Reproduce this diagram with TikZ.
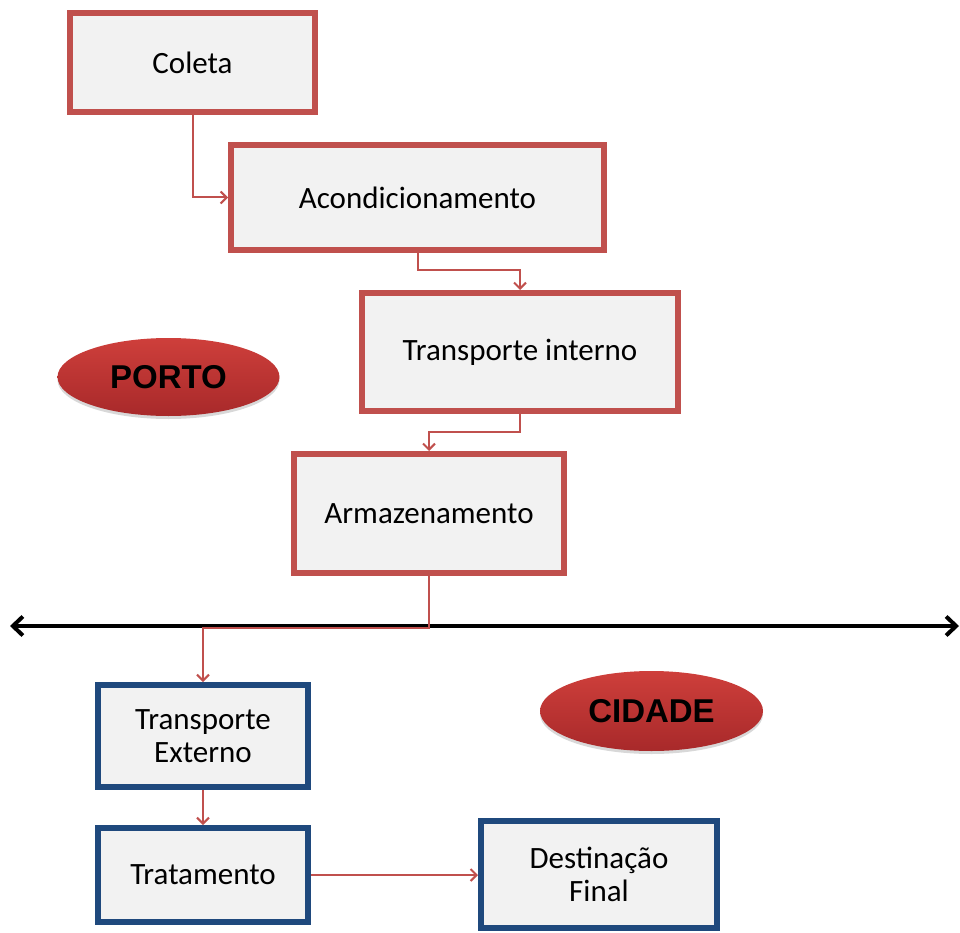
\documentclass[tikz,border=0pt]{standalone}
\usepackage{fontspec}
\setmainfont{Carlito}
\newfontfamily\tagfont{Liberation Sans}
\usetikzlibrary{arrows.meta,shapes.geometric,shadows}
\definecolor{boxred}{HTML}{C0504D}
\definecolor{boxblue}{HTML}{1F497D}
\definecolor{boxfill}{HTML}{F2F2F2}
\definecolor{tagtop}{HTML}{CE3F3B}
\definecolor{tagbottom}{HTML}{A8292A}
\tikzset{
  >={Straight Barb[length=6pt,width=12pt]},
}
\tikzstyle{every node}=[font=\fontsize{31}{33}\selectfont]
\tikzstyle{stage}=[draw=boxred,line width=6pt,fill=boxfill,align=center,
  drop shadow={shadow xshift=2pt,shadow yshift=-3pt,opacity=.2}]
\tikzstyle{citystage}=[stage,draw=boxblue]
\tikzstyle{flow}=[->,boxred,line width=2pt]
\tikzstyle{zone}=[ellipse,top color=tagtop,bottom color=tagbottom,inner sep=0pt,
  font=\tagfont\bfseries\fontsize{33}{36}\selectfont,
  drop shadow={shadow xshift=0pt,shadow yshift=-3pt,fill=black!30,opacity=.5}]
\tikzstyle{border}=[line width=4pt,
  {Straight Barb[length=10pt,width=19pt]}-{Straight Barb[length=10pt,width=19pt]}]

\begin{document}
\begin{tikzpicture}[x=1pt,y=-1pt]
    \useasboundingbox (0,0) rectangle (960,933);

    \node[stage,minimum width=245pt,minimum height=99pt] (coleta) at (192.5,62.5) {Coleta};
    \node[stage,minimum width=373pt,minimum height=105pt] (acond) at (417.5,197.5) {Acondicionamento};
    \node[stage,minimum width=316pt,minimum height=118pt] (tint) at (520,352) {Transporte interno};
    \node[stage,minimum width=270pt,minimum height=119pt] (armaz) at (429,513.5) {Armazenamento};
    \node[citystage,minimum width=210pt,minimum height=102pt] (text) at (203,736) {Transporte\\Externo};
    \node[citystage,minimum width=210pt,minimum height=94pt] (trat) at (203,875) {Tratamento};
    \node[citystage,minimum width=236pt,minimum height=107pt] (dest) at (599,874.5) {Destinação\\Final};

    \node[zone,minimum width=222pt,minimum height=78pt] (porto) at (168.5,377) {PORTO};
    \node[zone,minimum width=223pt,minimum height=80pt] (cidade) at (651.5,711) {CIDADE};

    \coordinate (wl) at (10,626);
    \coordinate (wr) at (959,626);
    \draw[border] (wl)--(wr);

    \draw[flow] (coleta.south) |- (acond.west);
    \draw[flow] (acond.south) -- ++(0,17) -| (tint.north);
    \draw[flow] (tint.south) -- ++(0,18) -| (armaz.north);
    \draw[flow] (armaz.south) -- ++(0,52) -| (text.north);
    \draw[flow] (text) -- (trat);
    \draw[flow] (trat.east) -- (trat.east -| dest.west);
  \end{tikzpicture}
\end{document}
